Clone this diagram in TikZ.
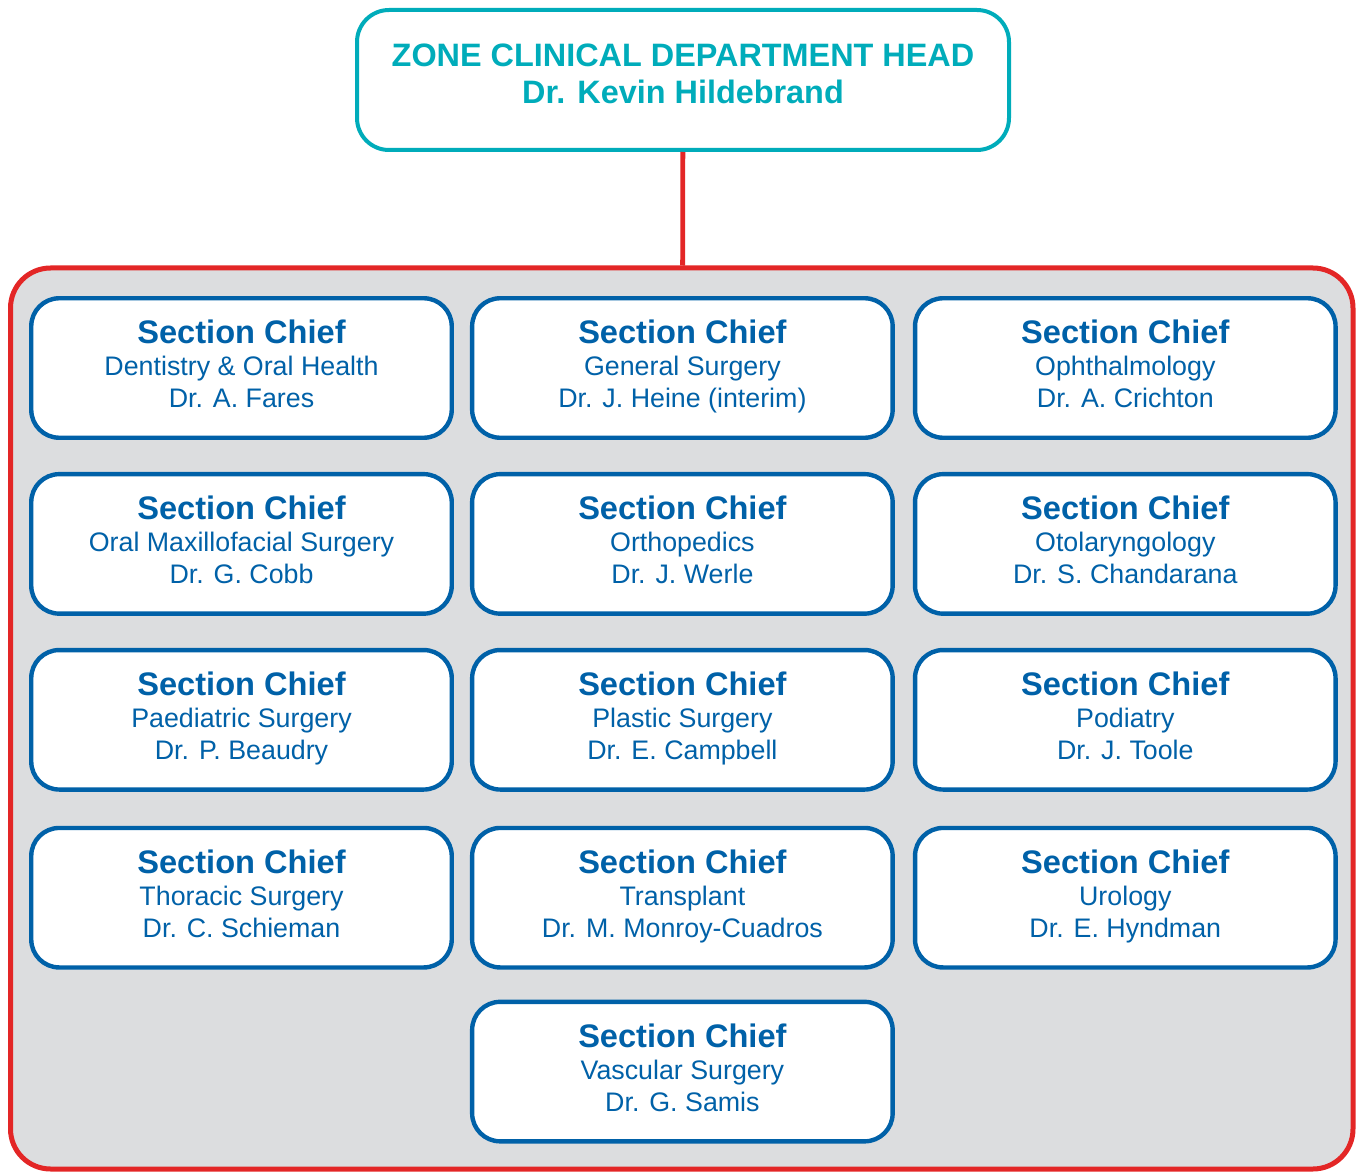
\documentclass[tikz,border=0pt]{standalone}
\usepackage{fontspec}
\setmainfont{Liberation Sans}
\usepackage{tikz}
\usetikzlibrary{positioning}
\definecolor{teal2}{RGB}{0, 172, 186}
\definecolor{blue2}{RGB}{0, 97, 168}
\definecolor{red2}{RGB}{227, 38, 38}
\definecolor{grey2}{RGB}{220, 221, 223}
\tikzstyle{head} = [rectangle, rounded corners=16pt, draw=teal2, line width=2pt, fill=white, text=teal2, align=center, font=\bfseries\fontsize{16.2}{18.5}\selectfont, text depth=6pt, minimum width=326pt, minimum height=70pt]
\tikzstyle{panel} = [rectangle, rounded corners=20pt, draw=red2, line width=2.5pt, fill=grey2, minimum width=671.25pt, minimum height=450.5pt]
\tikzstyle{chief} = [rectangle, rounded corners=14pt, draw=blue2, line width=2.2pt, fill=white, text=blue2, align=center, font=\fontsize{13.4}{16}\selectfont, text depth=4pt, minimum width=210.25pt, minimum height=69.75pt, inner sep=0pt]
\tikzstyle{tedge} = [draw=red2, line width=2.4pt]
\newcommand{\schief}{{\bfseries\fontsize{16.3}{16}\selectfont Section Chief}}

\begin{document}
\begin{tikzpicture}[x=0.5pt, y=-0.5pt]
\useasboundingbox (0,0) rectangle (1357,1172);

% head =============================
\node[head] (head) at (683,80) {ZONE CLINICAL DEPARTMENT HEAD\\Dr. Kevin Hildebrand};

% panel
\node[panel] (panel) at (681.75,718.5) {};

% section chiefs row 1
\node[chief] (dent) at (241.5,368) {\schief\\Dentistry \& Oral Health\\Dr. A. Fares};
\node[chief, right=8pt of dent] (gen) {\schief\\General Surgery\\Dr. J. Heine (interim)};
\node[chief, right=9pt of gen] (oph) {\schief\\Ophthalmology\\Dr. A. Crichton};

% row 2
\node[chief, below=16pt of dent] (oral) {\schief\\Oral Maxillofacial Surgery\\Dr. G. Cobb};
\node[chief, below=16pt of gen] (ortho) {\schief\\Orthopedics\\Dr. J. Werle};
\node[chief, below=16pt of oph] (oto) {\schief\\Otolaryngology\\Dr. S. Chandarana};

% row 3
\node[chief, below=16pt of oral] (paed) {\schief\\Paediatric Surgery\\Dr. P. Beaudry};
\node[chief, below=16pt of ortho] (plast) {\schief\\Plastic Surgery\\Dr. E. Campbell};
\node[chief, below=16pt of oto] (pod) {\schief\\Podiatry\\Dr. J. Toole};

% row 4
\node[chief, below=17pt of paed] (thor) {\schief\\Thoracic Surgery\\Dr. C. Schieman};
\node[chief, below=17pt of plast] (trans) {\schief\\Transplant\\Dr. M. Monroy-Cuadros};
\node[chief, below=17pt of pod] (uro) {\schief\\Urology\\Dr. E. Hyndman};

% row 5
\node[chief, below=15pt of trans] (vasc) {\schief\\Vascular Surgery\\Dr. G. Samis};

%edges
\path[tedge] (head) -- (panel);

\end{tikzpicture}
\end{document}
